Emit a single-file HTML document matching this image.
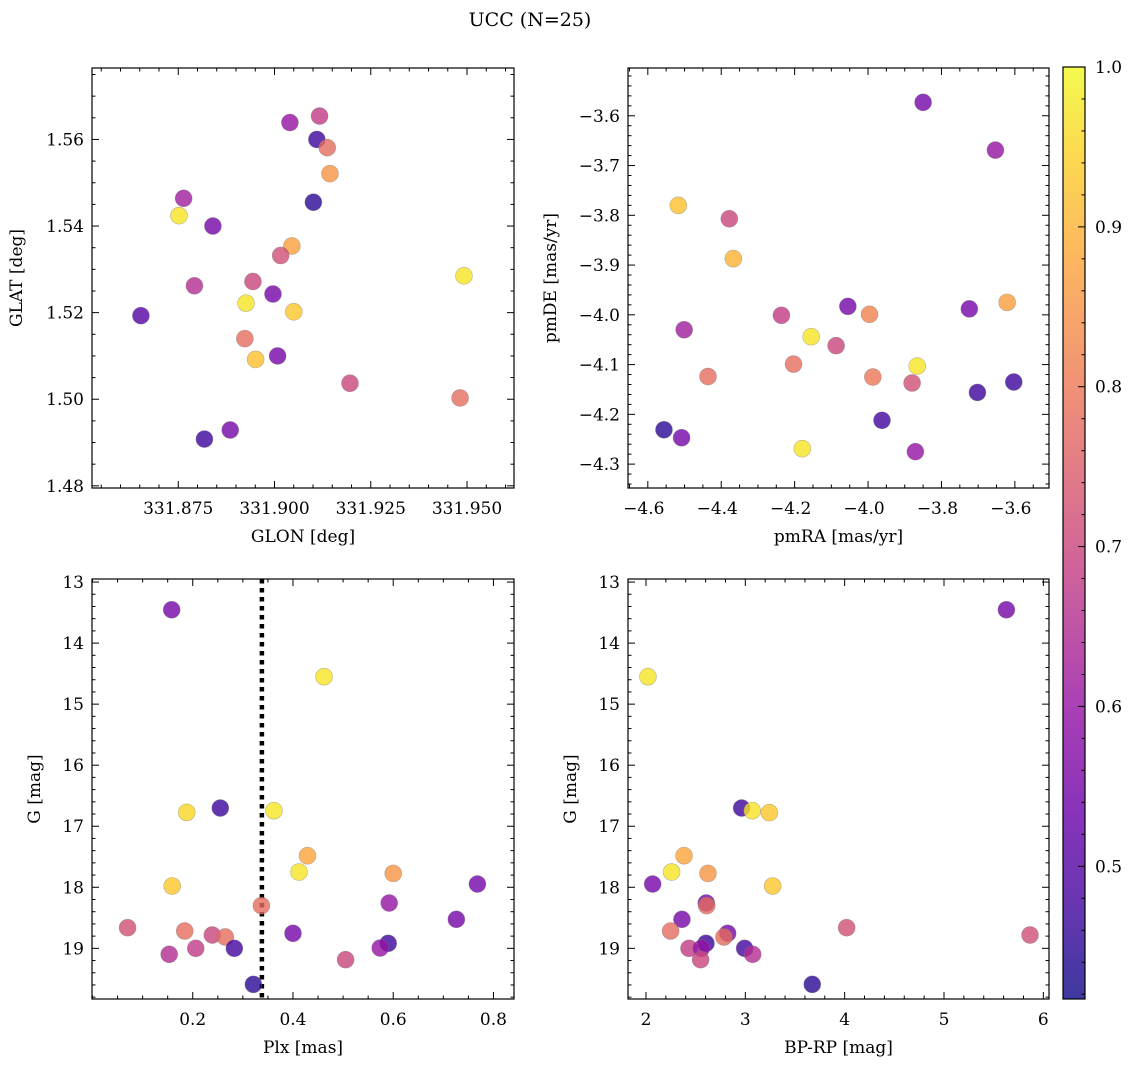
<!DOCTYPE html>
<html><head><meta charset="utf-8">
<style>
html,body{margin:0;padding:0;background:#fff;}
svg{display:block;font-family:"DejaVu Serif","Liberation Serif",serif;}
</style></head>
<body>
<svg id="fig" width="1136" height="1067" viewBox="0 0 1136 1067" xmlns="http://www.w3.org/2000/svg">
<text x="530" y="26" font-size="19" text-anchor="middle">UCC (N=25)</text>
</svg>
<script>
// ---- data: panel 1 (GLON vs GLAT)
const glon = [331.8653,331.8764,331.8752,331.8840,331.8792,331.8926,331.8944,331.8996,331.8923,331.8951,331.9008,331.9040,331.9117,331.9110,331.9137,331.9144,331.9101,331.9045,331.9016,331.9050,331.9196,331.9492,331.9482,331.8818,331.8885];
const glat = [1.5193,1.5464,1.5424,1.5400,1.5262,1.5222,1.5272,1.5243,1.5140,1.5092,1.5100,1.5639,1.5654,1.5600,1.5581,1.5521,1.5455,1.5354,1.5332,1.5202,1.5037,1.5285,1.5003,1.4908,1.4929];
const prob1 = [0.50,0.62,0.97,0.55,0.65,0.97,0.70,0.55,0.78,0.92,0.55,0.60,0.68,0.47,0.78,0.85,0.45,0.87,0.72,0.93,0.70,0.97,0.78,0.47,0.55];
// ---- data: panel 2 (pmRA vs pmDE)
const pmra = [-3.850,-3.653,-4.517,-4.378,-4.367,-4.055,-3.996,-4.236,-3.724,-3.621,-4.501,-4.155,-4.087,-4.203,-3.866,-4.436,-3.987,-3.880,-3.603,-3.702,-3.962,-4.556,-4.508,-4.179,-3.871];
const pmde = [-3.573,-3.669,-3.780,-3.807,-3.887,-3.983,-3.999,-4.001,-3.988,-3.975,-4.030,-4.044,-4.062,-4.099,-4.103,-4.124,-4.125,-4.137,-4.135,-4.156,-4.212,-4.231,-4.247,-4.269,-4.275];
const prob2 = [0.55,0.60,0.92,0.70,0.90,0.55,0.82,0.68,0.55,0.87,0.62,0.97,0.70,0.78,0.97,0.78,0.80,0.72,0.47,0.47,0.48,0.45,0.55,0.97,0.60];
// ---- data: panel 3 (Plx vs G)
const plx = [0.158,0.462,0.188,0.255,0.362,0.429,0.412,0.600,0.159,0.768,0.337,0.592,0.726,0.070,0.184,0.239,0.265,0.400,0.283,0.206,0.153,0.590,0.574,0.505,0.321];
const gmag3 = [13.454,14.551,16.773,16.702,16.746,17.483,17.750,17.772,17.979,17.947,18.301,18.258,18.525,18.662,18.716,18.782,18.814,18.754,19.000,19.000,19.098,18.918,18.995,19.186,19.590];
const prob3 = [0.55,0.97,0.95,0.47,0.97,0.88,0.97,0.85,0.93,0.55,0.78,0.60,0.55,0.72,0.78,0.70,0.78,0.55,0.48,0.68,0.65,0.47,0.60,0.70,0.45];
const plxLine = [0.338];
// ---- data: panel 4 (BP-RP vs G)
const bprp = [5.628,2.020,2.963,3.070,3.242,2.383,2.258,2.624,2.067,3.275,2.607,2.611,2.362,2.248,4.020,5.866,2.822,2.785,2.604,2.433,2.557,2.993,3.074,2.550,3.674];
const gmag4 = [13.454,14.551,16.702,16.746,16.778,17.483,17.750,17.772,17.947,17.979,18.258,18.301,18.525,18.716,18.662,18.782,18.754,18.814,18.918,19.000,19.000,19.000,19.098,19.186,19.590];
const prob4 = [0.55,0.97,0.47,0.97,0.93,0.88,0.97,0.85,0.55,0.93,0.55,0.78,0.55,0.78,0.72,0.72,0.55,0.78,0.47,0.68,0.60,0.48,0.65,0.70,0.45];
// ---- tick labels
const ticks1x = [331.875,331.900,331.925,331.950];
const ticks1y = [1.48,1.50,1.52,1.54,1.56];
const ticks2x = [-4.6,-4.4,-4.2,-4.0,-3.8,-3.6];
const ticks2y = [-4.3,-4.2,-4.1,-4.0,-3.9,-3.8,-3.7,-3.6];
const ticks3x = [0.2,0.4,0.6,0.8];
const ticksG = [13,14,15,16,17,18,19];
const ticks4x = [2,3,4,5,6];
const ticksCb = [0.5,0.6,0.7,0.8,0.9,1.0];
const cRange = [0.417,1.0];

const NS="http://www.w3.org/2000/svg";
const svg=document.getElementById('fig');
function mk(tag,attrs,parent){const e=document.createElementNS(NS,tag);for(const k in attrs)e.setAttribute(k,attrs[k]);(parent||svg).appendChild(e);return e;}
const stops=[[0.0,[13,8,135]],[0.1,[65,4,157]],[0.2,[106,0,168]],[0.3,[143,13,164]],[0.4,[177,42,144]],[0.5,[204,71,120]],[0.6,[225,100,98]],[0.7,[242,132,75]],[0.8,[252,166,54]],[0.9,[252,206,37]],[1.0,[240,249,33]]];
function plasma(t){t=Math.max(0,Math.min(1,t));for(let i=1;i<stops.length;i++){if(t<=stops[i][0]){const a=stops[i-1],b=stops[i];const f=(t-a[0])/(b[0]-a[0]);const c=a[1].map((v,j)=>Math.round(v+(b[1][j]-v)*f));return `rgb(${c[0]},${c[1]},${c[2]})`;}}return 'rgb(240,249,33)';}
function cmap(v){return plasma((v-cRange[0])/(cRange[1]-cRange[0]));}
function fmt(v,d){return (v<0?'\u2212':'')+Math.abs(v).toFixed(d);}
const FS=17;

function panel(o){
  const g=mk('g',{});
  
  
  const sx=v=>o.x0+(v-o.xmin)/(o.xmax-o.xmin)*(o.x1-o.x0);
  const sy=o.inv? (v=>o.y0+(v-o.ymin)/(o.ymax-o.ymin)*(o.y1-o.y0)) : (v=>o.y1-(v-o.ymin)/(o.ymax-o.ymin)*(o.y1-o.y0));
  const tg=mk('g',{stroke:'#000','stroke-width':1},g);
  
  
  const lo=Math.min(o.xmin,o.xmax),hi=Math.max(o.xmin,o.xmax);
  for(let k=Math.ceil(lo/o.xminor-1e-6);k*o.xminor<=hi+1e-9;k++){const v=k*o.xminor;const X=sx(v);
    const major=o.xt.some(t=>Math.abs(t-v)<o.xminor*0.1);const L=major?7:3.5;
    mk('line',{x1:X,x2:X,y1:o.y1,y2:o.y1-L},tg);mk('line',{x1:X,x2:X,y1:o.y0,y2:o.y0+L},tg);}
  const ylo=Math.min(o.ymin,o.ymax),yhi=Math.max(o.ymin,o.ymax);
  for(let k=Math.ceil(ylo/o.yminor-1e-6);k*o.yminor<=yhi+1e-9;k++){const v=k*o.yminor;const Y=sy(v);
    const major=o.yt.some(t=>Math.abs(t-v)<o.yminor*0.1);const L=major?7:3.5;
    mk('line',{x1:o.x0,x2:o.x0+L,y1:Y,y2:Y},tg);mk('line',{x1:o.x1,x2:o.x1-L,y1:Y,y2:Y},tg);}
  o.xt.forEach(t=>{const e=mk('text',{x:sx(t)-(t<0?4:0),y:o.y1+26,'font-size':FS,'text-anchor':'middle'},g);e.textContent=fmt(t,o.xd);
    });
  o.yt.forEach(t=>{const e=mk('text',{x:o.x0-8,y:sy(t)+6,'font-size':FS,'text-anchor':'end'},g);e.textContent=fmt(t,o.yd);
    });
  const xl=mk('text',{x:(o.x0+o.x1)/2,y:o.y1+54,'font-size':FS,'text-anchor':'middle'},g);xl.textContent=o.xlabel;
  
  const yl=mk('text',{x:o.ylx,y:(o.y0+o.y1)/2,'font-size':FS,'text-anchor':'middle',transform:`rotate(-90 ${o.ylx} ${(o.y0+o.y1)/2})`},g);yl.textContent=o.ylabel;
  
  if(o.vline){o.vline.forEach(v=>{const l=mk('line',{x1:sx(v),x2:sx(v),y1:o.y0,y2:o.y1,stroke:'#000','stroke-width':4.5,'stroke-dasharray':'4.5 4.5'},g);
    });}
  const pg=mk('g',{},g);
  
  
  o.xs.forEach((v,i)=>{const c=mk('circle',{cx:sx(v),cy:sy(o.ys[i]),r:8.5,fill:cmap(o.cs[i]),'fill-opacity':0.8,stroke:'#777','stroke-opacity':0.5,'stroke-width':0.6},pg);
    });
  const fr=mk('rect',{x:o.x0,y:o.y0,width:o.x1-o.x0,height:o.y1-o.y0,fill:'none',stroke:'#000','stroke-width':1.2},g);
  
}
panel({name:'glon-glat-panel',x0:92,x1:514,y0:68,y1:488,xmin:331.8526,xmax:331.9622,ymin:1.4795,ymax:1.5765,xt:ticks1x,yt:ticks1y,xminor:0.005,yminor:0.005,xd:3,yd:2,xlabel:'GLON [deg]',ylabel:'GLAT [deg]',ylx:22,xs:glon,ys:glat,cs:prob1});
panel({name:'pm-panel',x0:628,x1:1049,y0:68,y1:488,xmin:-4.654,xmax:-3.507,ymin:-4.348,ymax:-3.504,xt:ticks2x,yt:ticks2y,xminor:0.05,yminor:0.02,xd:1,yd:1,xlabel:'pmRA [mas/yr]',ylabel:'pmDE [mas/yr]',ylx:556,xs:pmra,ys:pmde,cs:prob2});
panel({name:'plx-g-panel',x0:92,x1:514,y0:579,y1:999,xmin:-0.001,xmax:0.841,ymin:12.95,ymax:19.83,inv:true,xt:ticks3x,yt:ticksG,xminor:0.05,yminor:0.2,xd:1,yd:0,xlabel:'Plx [mas]',ylabel:'G [mag]',ylx:40,xs:plx,ys:gmag3,cs:prob3,vline:plxLine});
panel({name:'cmd-panel',x0:628,x1:1049,y0:579,y1:999,xmin:1.819,xmax:6.057,ymin:12.95,ymax:19.83,inv:true,xt:ticks4x,yt:ticksG,xminor:0.2,yminor:0.2,xd:0,yd:0,xlabel:'BP-RP [mag]',ylabel:'G [mag]',ylx:576,xs:bprp,ys:gmag4,cs:prob4});

// colorbar
const cb=mk('g',{});


const defs=mk('defs',{},cb);
const lg=mk('linearGradient',{id:'cbg',x1:0,y1:1,x2:0,y2:0},defs);
for(let i=0;i<=20;i++){mk('stop',{offset:i/20,'stop-color':plasma(i/20),'stop-opacity':0.8},lg);}
const cx0=1063,cx1=1085,cy0=67,cy1=999;
mk('rect',{x:cx0,y:cy0,width:cx1-cx0,height:cy1-cy0,fill:'url(#cbg)',stroke:'#000','stroke-width':1.2},cb);
const cy=v=>cy1-(v-cRange[0])/(cRange[1]-cRange[0])*(cy1-cy0);
for(let k=Math.ceil(cRange[0]/0.02-1e-6);k*0.02<=cRange[1]+1e-9;k++){const v=k*0.02;const Y=cy(v);const major=ticksCb.some(t=>Math.abs(t-v)<0.002);
  mk('line',{x1:cx1,x2:cx1-(major?7:3.5),y1:Y,y2:Y,stroke:'#000','stroke-width':1},cb);}
ticksCb.forEach(t=>{const e=mk('text',{x:cx1+10,y:cy(t)+6,'font-size':FS},cb);e.textContent=t.toFixed(1);
  });
</script>
</body></html>
